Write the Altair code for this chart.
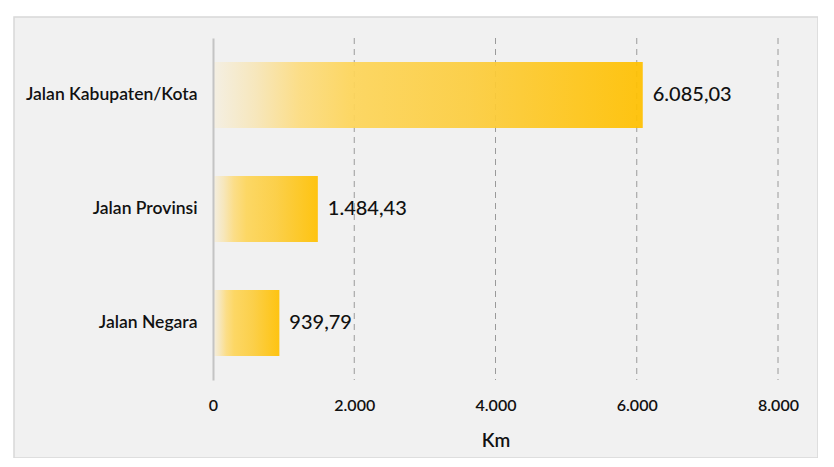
import altair as alt
import pandas as pd

categories = ["Jalan Kabupaten/Kota", "Jalan Provinsi", "Jalan Negara"]
values_km = [6085.03, 1484.43, 939.79]
grid_ticks = [2000, 4000, 6000, 8000]
x_ticks = [0, 2000, 4000, 6000, 8000]

df = pd.DataFrame({"kategori": categories, "km": values_km})
grid_df = pd.DataFrame({"t": grid_ticks})

W, H = 565, 342
FONT = "Lato"

x_scale = alt.Scale(domain=[0, 8000], nice=False)
y_enc = alt.Y("kategori:N", sort=categories,
              scale=alt.Scale(paddingInner=0.42, paddingOuter=0.21),
              axis=alt.Axis(title=None, ticks=False, labelPadding=16,
                            labelFont=FONT, labelFontSize=17.5, labelFontWeight=600,
                            labelColor="#111111", domainColor="#c4c4c4",
                            domainWidth=2, grid=False, zindex=1))

panel = alt.Chart(alt.Data(values=[{}])).mark_rect(
    fill="#f1f1f1", stroke="#d8d8d8", strokeWidth=1.5
).encode(
    x=alt.value(-199), x2=alt.value(605), y=alt.value(-21), y2=alt.value(420)
)

grid = alt.Chart(grid_df).mark_rule(
    color="#9a9a9a", strokeWidth=1, strokeDash=[6, 5]
).encode(
    x=alt.X("t:Q", scale=x_scale),
    y=alt.value(0), y2=alt.value(H)
)

gradient = alt.Gradient(
    gradient="linear",
    stops=[
        alt.GradientStop(color="#f4efe3", offset=0),
        alt.GradientStop(color="#f7e6b8", offset=0.1),
        alt.GradientStop(color="#fcdc80", offset=0.2),
        alt.GradientStop(color="#fdd55a", offset=0.32),
        alt.GradientStop(color="#fccd3e", offset=0.6),
        alt.GradientStop(color="#ffc000", offset=1),
    ],
    x1=0, x2=1, y1=0, y2=0,
)

bars = alt.Chart(df).mark_bar(color=gradient, opacity=0.93).encode(
    x=alt.X("km:Q", scale=x_scale,
            axis=alt.Axis(values=x_ticks, format=",d", title="Km",
                          grid=False, domain=False, ticks=False, labelFlush=False,
                          labelPadding=17, labelFont=FONT, labelFontSize=16,
                          labelFontWeight=600, labelColor="#111111",
                          titleFont=FONT, titleFontSize=19, titleFontWeight=600,
                          titleColor="#111111", titlePadding=18, zindex=1)),
    y=y_enc,
)

labels = alt.Chart(df).mark_text(
    align="left", baseline="middle", dx=10, font=FONT, fontSize=20,
    fontWeight=500, color="#111111"
).encode(
    x=alt.X("km:Q", scale=x_scale),
    y=alt.Y("kategori:N", sort=categories),
    text=alt.Text("km:Q", format=",.2f"),
)

chart = alt.layer(panel, grid, bars, labels).properties(
    width=W, height=H,
    autosize=alt.AutoSizeParams(type="none"),
    padding={"left": 205, "top": 30, "right": 40, "bottom": 78},
).configure(
    background="white",
    locale={"number": {"decimal": ",", "thousands": ".", "grouping": [3],
                       "currency": ["Rp", ""]}},
).configure_view(stroke=None)

chart.save("out.html", embed_options={"renderer": "svg", "actions": False})
